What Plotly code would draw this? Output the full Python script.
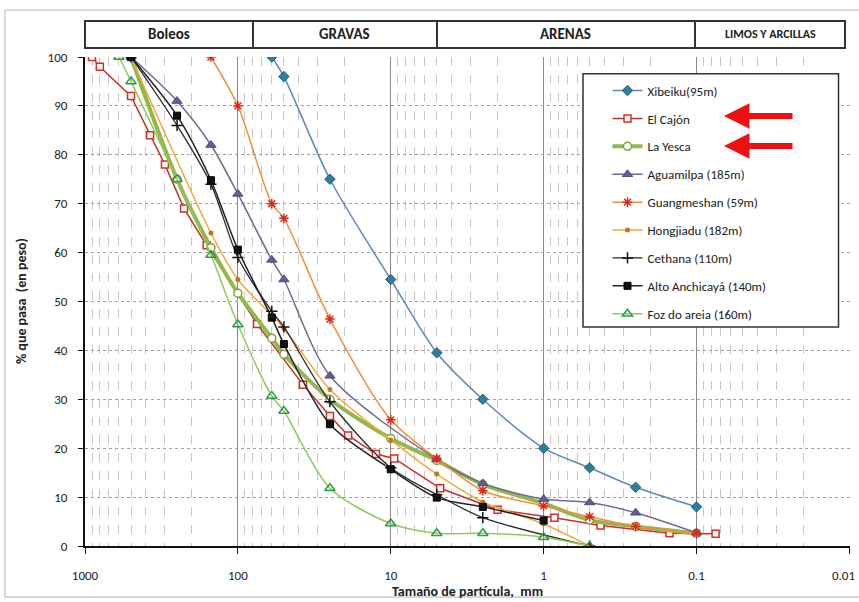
import plotly.graph_objects as go

# Grain-size distribution curves (particle size in mm, % passing by weight)
xibeiku_mm = [60, 50, 25, 10, 5, 2.5, 1, 0.5, 0.25, 0.1]
xibeiku_pct = [100, 96, 75, 54.5, 39.5, 30, 20, 16, 12, 8]

el_cajon_mm = [900, 800, 500, 375, 300, 225, 160, 75, 37.5, 25, 19, 12.5, 9.5, 4.75, 2, 0.85, 0.425, 0.15, 0.075]
el_cajon_pct = [100, 98, 92, 84, 78, 69, 61.5, 45.4, 33, 26.6, 22.6, 18.8, 17.9, 11.8, 7.4, 5.8, 4.2, 2.6, 2.5]

la_yesca_mm = [500, 250, 150, 100, 60, 50, 25, 10, 5, 2.5, 1, 0.5, 0.25, 0.1]
la_yesca_pct = [100, 75, 61, 51.7, 42.5, 39.2, 30, 22, 17.5, 12.6, 8.7, 5.3, 4, 2.6]

aguamilpa_mm = [500, 250, 150, 100, 60, 50, 25, 5, 2.5, 1, 0.5, 0.25, 0.1]
aguamilpa_pct = [100, 91, 82, 72, 58.5, 54.5, 34.8, 17.7, 12.8, 9.6, 8.9, 6.8, 2.7]

guangmeshan_mm = [150, 100, 60, 50, 25, 10, 5, 2.5, 1, 0.5, 0.25, 0.1]
guangmeshan_pct = [100, 90, 70, 67, 46.4, 25.8, 17.9, 11.3, 8.2, 6, 4, 2.6]

hongjiadu_mm = [500, 150, 100, 50, 25, 10, 5, 2.5, 1, 0.5]
hongjiadu_pct = [100, 64, 54.5, 44.5, 32, 21.7, 14.7, 9, 4.5, 0]

cethana_mm = [500, 250, 150, 100, 60, 50, 25, 10, 5, 2.5, 0.5]
cethana_pct = [100, 86, 74, 59, 48, 44.8, 29.5, 16, 10.5, 5.8, 0]

alto_mm = [500, 250, 150, 100, 60, 50, 25, 10, 5, 2.5, 1]
alto_pct = [100, 88, 74.8, 60.6, 46.7, 41.3, 24.9, 15.7, 9.9, 8, 5.2]

foz_mm = [600, 500, 250, 150, 100, 60, 50, 25, 10, 5, 2.5, 1, 0.5]
foz_pct = [100, 95, 75, 59.5, 45.3, 30.7, 27.6, 11.8, 4.6, 2.6, 2.6, 1.8, 0]

# decade ticks; the last one sits on the right edge and is written separately
x_tickvals = [1000, 100, 10, 1, 0.1, 0.01]
x_ticktext = ["1000", "100", "10", "1", "0.1", ""]
edge_label = "0.01"

bands = ["Boleos", "GRAVAS", "ARENAS", "LIMOS Y ARCILLAS"]
band_edges = [0.0, 0.2196, 0.4601, 0.7974, 0.9935]   # paper x of band borders
band_font = [15, 15, 15, 12]

FONT = "Carlito, Lato, 'Liberation Sans', sans-serif"
NARROW = "'Liberation Sans Narrow', Carlito, Lato, sans-serif"

series = [
    dict(name="Xibeiku(95m)", x=xibeiku_mm, y=xibeiku_pct, line=dict(color="#5f87b8", width=1.5),
         marker=dict(symbol="diamond", size=8, color="#2f7f9c", line=dict(color="#1f5f78", width=1)), shape="spline"),
    dict(name="El Cajón", x=el_cajon_mm, y=el_cajon_pct, line=dict(color="#c8302a", width=1.5),
         marker=dict(symbol="square", size=7, color="white", line=dict(color="#d3302a", width=1.5)), shape="linear"),
    dict(name="La Yesca", x=la_yesca_mm, y=la_yesca_pct, line=dict(color="#93b64d", width=4),
         marker=dict(symbol="circle", size=8, color="white", line=dict(color="#7fa040", width=1.5)), shape="spline"),
    dict(name="Aguamilpa (185m)", x=aguamilpa_mm, y=aguamilpa_pct, line=dict(color="#6d6b90", width=1.5),
         marker=dict(symbol="triangle-up", size=9, color="#625f95", line=dict(color="#504d80", width=1)), shape="spline"),
    dict(name="Guangmeshan (59m)", x=guangmeshan_mm, y=guangmeshan_pct, line=dict(color="#f0903a", width=1.5),
         marker=dict(symbol="asterisk", size=8, color="#e02818", line=dict(color="#e02818", width=1.5)), shape="spline"),
    dict(name="Hongjiadu (182m)", x=hongjiadu_mm, y=hongjiadu_pct, line=dict(color="#f2a93a", width=1.5),
         marker=dict(symbol="circle", size=5, color="#c7761e"), shape="spline"),
    dict(name="Cethana (110m)", x=cethana_mm, y=cethana_pct, line=dict(color="#2a2a2a", width=1.3),
         marker=dict(symbol="cross-thin", size=8, color="#111", line=dict(color="#111", width=1.5)), shape="spline"),
    dict(name="Alto Anchicayá (140m)", x=alto_mm, y=alto_pct, line=dict(color="#222222", width=1.5),
         marker=dict(symbol="square", size=7, color="#111", line=dict(color="#000", width=1)), shape="spline"),
    dict(name="Foz do areia (160m)", x=foz_mm, y=foz_pct, line=dict(color="#8fca5a", width=1.5),
         marker=dict(symbol="triangle-up-open", size=9, color="#2e9a48", line=dict(color="#2e9a48", width=1.5)), shape="spline"),
]

fig = go.Figure()
for i, s in enumerate(series):
    fig.add_trace(go.Scatter(
        x=s["x"], y=s["y"], name=s["name"], mode="lines+markers",
        line=dict(color=s["line"]["color"], width=s["line"]["width"], shape=s["shape"], smoothing=0.8),
        marker=s["marker"], legendgroup=f"g{i}",
    ))

shapes = []
# outer chart frame
shapes.append(dict(type="rect", xref="paper", yref="paper", x0=-0.1046, x1=1.03, y0=-0.1043, y1=1.0961,
                   line=dict(color="#b0b0b0", width=1), layer="below"))
# soil-class header band
y_lo, y_hi = 1.0184, 1.0737
shapes.append(dict(type="rect", xref="paper", yref="paper", x0=band_edges[0], x1=band_edges[-1],
                   y0=y_lo, y1=y_hi, line=dict(color="#333", width=2), fillcolor="white"))
for e in band_edges[1:-1]:
    shapes.append(dict(type="line", xref="paper", yref="paper", x0=e, x1=e, y0=y_lo, y1=y_hi,
                       line=dict(color="#333", width=2)))
# legend frame
shapes.append(dict(type="rect", xref="paper", yref="paper", x0=0.651, x1=0.985, y0=0.448, y1=0.966,
                   line=dict(color="#333", width=1.5), fillcolor="white", layer="above"))

annotations = []
for k, name in enumerate(bands):
    annotations.append(dict(xref="paper", yref="paper", x=(band_edges[k] + band_edges[k + 1]) / 2,
                            y=(y_lo + y_hi) / 2, text=f"<b>{name}</b>", showarrow=False,
                            font=dict(family=NARROW, size=band_font[k], color="#222"),
                            xanchor="center", yanchor="middle"))
# right-edge decade label, kept inside the page
annotations.append(dict(xref="paper", yref="paper", x=(857 - 85) / 765, y=(546 - 575) / 489,
                        text=edge_label, showarrow=False, xanchor="right", yanchor="middle",
                        font=dict(family=FONT, size=13, color="#222")))
# axis titles
annotations.append(dict(xref="paper", yref="paper", x=0.5, y=-0.094, text="<b>Tamaño de partícula,  mm</b>",
                        showarrow=False, font=dict(family=FONT, size=14, color="#222"), yanchor="middle"))
annotations.append(dict(xref="paper", yref="paper", x=-0.083, y=0.5, text="<b>% que pasa  (en peso)</b>",
                        showarrow=False, textangle=-90, font=dict(family=FONT, size=14, color="#222"),
                        xanchor="center", yanchor="middle"))
# highlight arrows next to two legend entries
for ypx in (116, 146):
    annotations.append(dict(xref="paper", yref="paper", x=(724 - 85) / 765, y=(546 - ypx) / 489,
                            ax=70, ay=0, axref="pixel", ayref="pixel", text="", showarrow=True,
                            arrowhead=2, arrowsize=0.85, arrowwidth=6, arrowcolor="#ee1010"))

fig.update_layout(
    width=859, height=602,
    margin=dict(l=85, r=9, t=57, b=56, autoexpand=False),
    paper_bgcolor="white", plot_bgcolor="white",
    font=dict(family=FONT, size=13, color="#222"),
    showlegend=True,
    legend=dict(x=0.683, y=0.962, xanchor="left", yanchor="top", bgcolor="rgba(0,0,0,0)",
                borderwidth=0, font=dict(family=FONT, size=13, color="#222"),
                tracegroupgap=8, traceorder="grouped", itemwidth=30),
    shapes=shapes, annotations=annotations,
    xaxis=dict(type="log", range=[3, -2.004], tickvals=x_tickvals, ticktext=x_ticktext,
               showline=True, linecolor="#111", linewidth=2, ticks="outside", ticklen=6, tickcolor="#111",
               showgrid=True, gridcolor="#8f8585", gridwidth=1,
               minor=dict(dtick="D1", showgrid=True, gridcolor="#cfc5c5", griddash="dash", gridwidth=1),
               ticklabelstandoff=10, ticklabeloverflow="allow", automargin=False,
               zeroline=False, tickfont=dict(size=13)),
    yaxis=dict(range=[0, 100], dtick=10, showline=True, linecolor="#111", linewidth=2,
               ticks="outside", ticklen=5, tickcolor="#111",
               showgrid=True, gridcolor="#a89e9e", griddash="dot", gridwidth=1,
               ticklabelstandoff=8, automargin=False, zeroline=False, tickfont=dict(size=13)),
)

fig.write_html("out.html")
